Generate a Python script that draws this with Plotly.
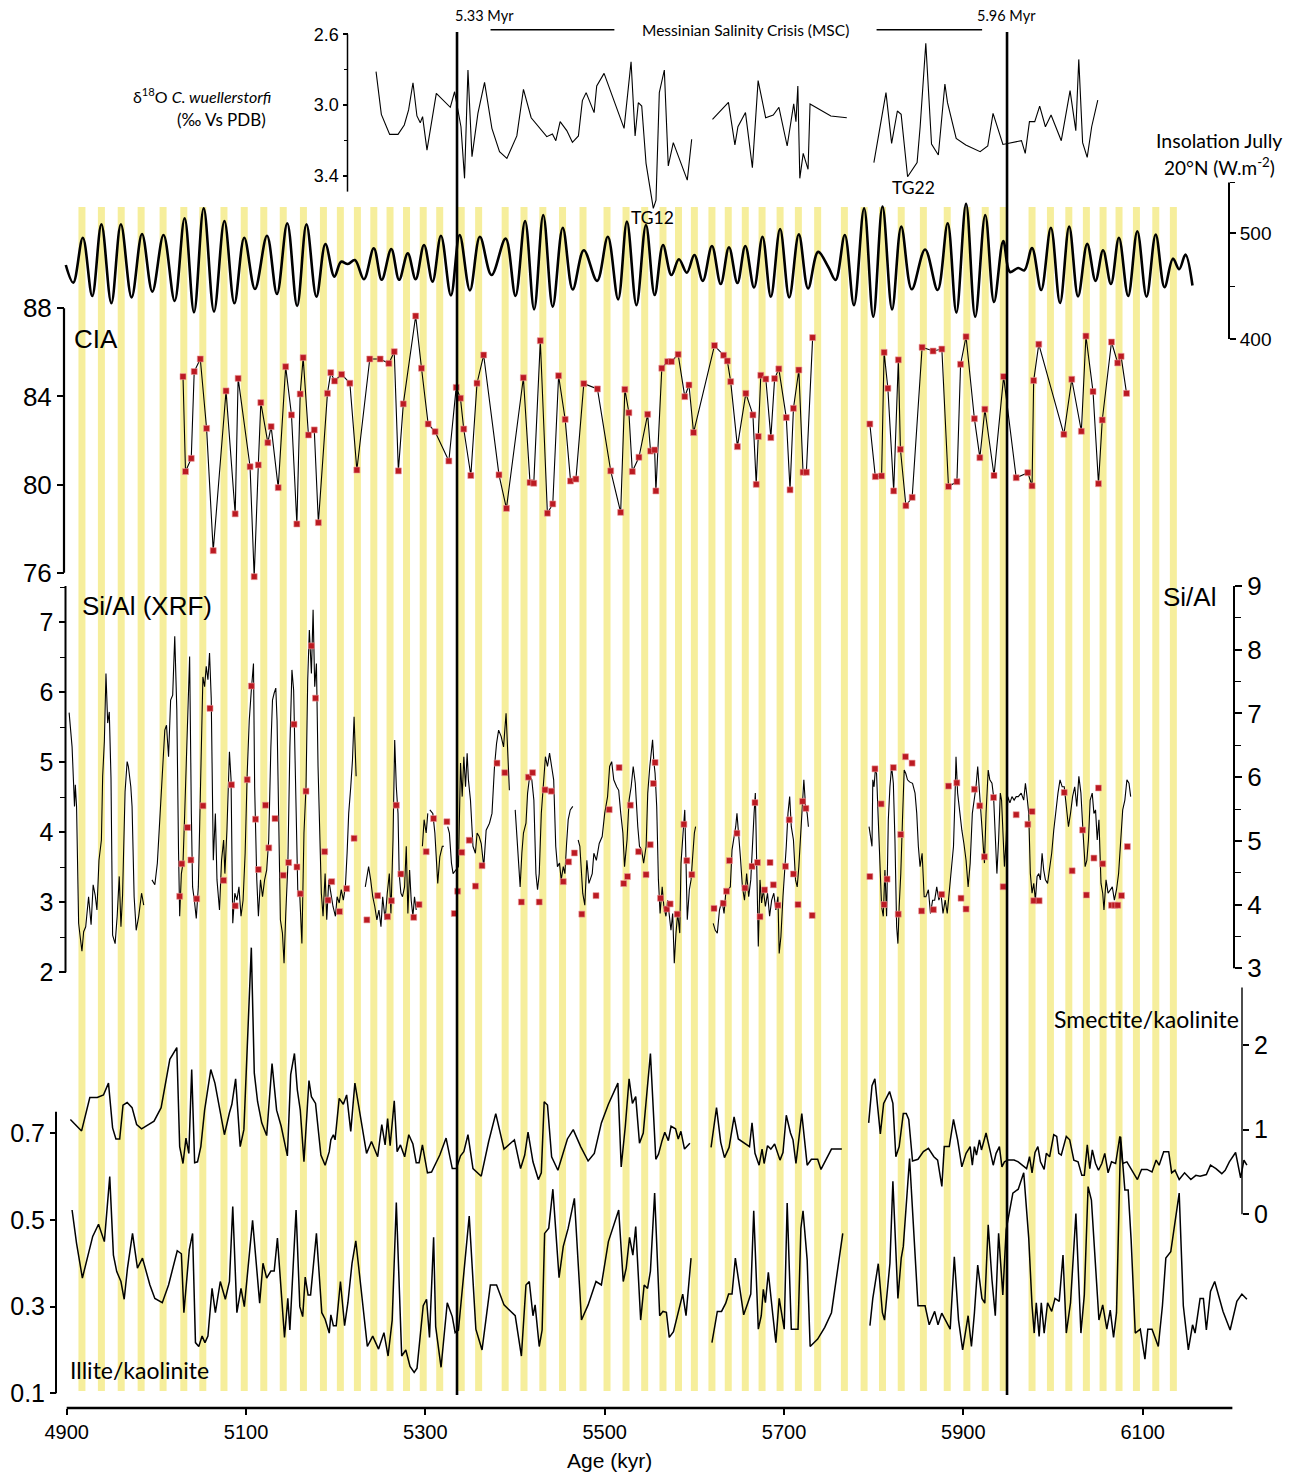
import plotly.graph_objects as go

# ---------------- DATA (ages in kyr) ----------------
band_centers = [4917, 4938.7, 4960.8, 4983, 5007.5, 5030.6, 5051.8, 5075.4, 5098, 5119.8,
                5141.5, 5164, 5186.3, 5205.2, 5224.2, 5242.5, 5260.6, 5279, 5297.6, 5316,
                5340, 5359.4, 5389, 5410, 5431, 5453, 5475.8, 5502.6, 5523.8, 5544.6,
                5565, 5582.3, 5600, 5619.6, 5637.8, 5656.8, 5675.5, 5695.6, 5716, 5737.5,
                5767.3, 5789.3, 5809.8, 5830.7, 5855.4, 5882, 5903.9, 5924.4, 5944.5, 5976.6,
                5997.1, 6017.6, 6037.2, 6055.8, 6073.6, 6093, 6114.6, 6134.2]
msc_bounds = [5335.3, 5948.7]

# d18O C. wuellerstorfi (3 segments)
d18o_age_1 = [5245, 5250.9, 5260.2, 5269.5, 5276.5, 5281.3, 5286.2, 5290.6, 5294.3, 5296.9,
              5301.8, 5312.2, 5327.8, 5332.6, 5339.7, 5343.7, 5347.5, 5352, 5358.6, 5366,
              5374.2, 5382.7, 5390.9, 5402, 5409.4, 5418, 5435.4, 5441.7, 5445.5, 5450.3,
              5457.7, 5464, 5470.7, 5475.1, 5479.3, 5488.2, 5491.1, 5499.3, 5521.6, 5529.4,
              5533.9, 5537.5, 5541.3, 5546.1, 5552.4, 5554.2, 5557.2, 5560.9, 5566.5, 5570.9,
              5576.5, 5592.1, 5597]
d18o_val_1 = [2.811, 3.053, 3.166, 3.166, 3.113, 3.028, 2.874, 3.062, 3.1, 3.066,
              3.255, 2.934, 3.013, 2.925, 3.123, 3.415, 2.802, 3.292, 3.047, 2.872,
              3.132, 3.264, 3.302, 3.175, 2.911, 3.072, 3.179, 3.164, 3.202, 3.094,
              3.145, 3.211, 3.175, 2.975, 2.93, 3.043, 2.892, 2.821, 3.132, 2.755,
              3.175, 2.987, 3.006, 3.33, 3.528, 3.585, 3.538, 2.93, 2.802, 3.345,
              3.213, 3.425, 3.194]
d18o_age_2 = [5620.2, 5638, 5645.2, 5648.6, 5657, 5664.7, 5671.1, 5679.5, 5688, 5694.3,
              5703.5, 5710.8, 5713.3, 5715.4, 5717.6, 5721.4, 5726.8, 5729, 5752.2, 5770]
d18o_val_2 = [3.081, 2.985, 3.226, 3.123, 3.043, 3.355, 2.862, 3.072, 3.057, 3.013,
              3.232, 2.994, 3.094, 2.892, 3.415, 3.274, 3.364, 2.994, 3.062, 3.072]
d18o_age_3 = [5800.2, 5813.7, 5820, 5826.4, 5830.6, 5837.8, 5848.4, 5851.8, 5858.1, 5864.5,
              5872.1, 5879.4, 5882.3, 5892, 5902.7, 5918.7, 5927.2, 5933.1, 5944.1, 5952.5,
              5964.8, 5969, 5973.7, 5979.6, 5985.1, 5991.5, 5997.8, 6009.2, 6019, 6025.4,
              6028.7, 6033, 6038.1, 6043.1, 6049.9]
d18o_val_3 = [3.326, 2.93, 3.217, 3.034, 3.053, 3.406, 3.326, 3.123, 2.651, 3.221,
              3.283, 2.881, 2.987, 3.189, 3.226, 3.264, 3.232, 3.047, 3.223, 3.213,
              3.202, 3.274, 3.094, 3.094, 3.006, 3.123, 3.057, 3.202, 2.919, 3.145,
              2.742, 3.213, 3.296, 3.123, 2.972]

# July insolation 20N (extrema)
ins_age = [4899, 4907.3, 4918, 4928.5, 4938.7, 4949.8, 4960.4, 4972.4, 4984, 4995.5,
           5008, 5020.4, 5031.5, 5042, 5052.8, 5064.3, 5075.9, 5087, 5098, 5110,
           5123.4, 5134.5, 5146, 5157, 5167.4, 5178.5, 5188.5, 5198.5, 5206, 5213.5,
           5221.4, 5231.5, 5242.5, 5251.3, 5262, 5270.7, 5280.4, 5289.2, 5298.5, 5308,
           5317.4, 5328.5, 5338.2, 5349.7, 5360.8, 5373.8, 5389.5, 5400.5, 5411.2, 5421.3,
           5431.5, 5442, 5453.2, 5464.3, 5476.7, 5491.5, 5503.5, 5515, 5524.8, 5535.4,
           5546, 5555.7, 5565, 5574.4, 5582.8, 5591.6, 5600, 5609.4, 5619.6, 5629.4,
           5638.6, 5648, 5656.8, 5666.6, 5676, 5685.3, 5695.6, 5705.8, 5716.5, 5726.8,
           5738, 5749.2, 5757.5, 5767.8, 5778, 5789.3, 5799.5, 5809.8, 5820.5, 5830.7,
           5842.4, 5857.3, 5871.3, 5882.5, 5892.2, 5903, 5913.2, 5924.4, 5934.2, 5944.5,
           5952, 5961.2, 5968, 5976.6, 5986.8, 5997.6, 6007.8, 6018, 6027.9, 6038.1,
           6047.4, 6055.8, 6064.6, 6073.5, 6083.8, 6094, 6104.3, 6114.5, 6124.3, 6133.7,
           6140.7, 6147.7, 6155.5]
ins_val = [470, 453.3, 495.8, 440.7, 508.5, 433.8, 508.5, 439.4, 499.3, 444.8,
           498.4, 436, 514.2, 425.3, 523.7, 425.9, 511.6, 433.8, 495.8, 447.3,
           497.7, 442.6, 509.5, 431.3, 508.5, 440, 489.9, 459, 473.1, 470.9,
           474.7, 456.5, 485.8, 456, 485, 456, 481, 456.5, 489, 454.3,
           497.7, 441.3, 498.4, 446, 496.7, 460.5, 495, 440.7, 511.6, 428,
           517.3, 430.6, 505.3, 446.9, 484, 455, 496.7, 437.5, 511, 432,
           507.9, 441.6, 488.9, 460.5, 475.4, 462.7, 479.5, 455, 488, 452,
           486.8, 453, 488, 448.7, 496.7, 440, 504, 439.4, 499, 447.8,
           482.4, 468.4, 455.8, 498.4, 432, 523.7, 421, 525.3, 428, 506.3,
           447, 484.7, 446.3, 509.5, 425, 527.9, 421, 517.3, 435, 492.7,
           463.4, 467.2, 465, 486, 446.3, 505.3, 434, 506.3, 440.3, 490,
           455, 484, 452, 495.8, 440.7, 502, 440, 498.7, 449, 476,
           466, 479.8, 450.6]

# CIA
cia_age_1 = [5029.7, 5032.5, 5038.9, 5042.2, 5049, 5056, 5063.4, 5077.7, 5087.9, 5091.2,
             5104.5, 5109.1, 5113.7, 5116.5, 5124.3, 5128, 5135.9, 5144.2, 5150.7, 5156.7,
             5160.4, 5163.7, 5169.6, 5176.1, 5180.7, 5190.8, 5194.5, 5198.8, 5206.6, 5215.8,
             5223.6, 5238, 5249.6, 5259.3, 5265.3, 5269.9, 5275.4, 5289.2, 5295.7, 5303.1,
             5310.9, 5326.2, 5334.4, 5339.1, 5342.8, 5350.7, 5357.6, 5365, 5382.1, 5390.4,
             5409.3, 5416.7, 5420.9, 5428.2, 5436.1, 5442.1, 5448.6, 5455.9, 5461.9, 5467.9,
             5476.7, 5491.9, 5506.7, 5517.8, 5522.5, 5527, 5530.8, 5538.2, 5547.9, 5551.1,
             5555.7, 5557.1, 5563.7, 5570.2, 5574.4, 5581.9, 5589.3, 5594, 5599.1, 5622.4,
             5632.6, 5636.8, 5640.5, 5648, 5657.4, 5665.3, 5669, 5671.3, 5674.1, 5679.7,
             5685.3, 5689.5, 5694.2, 5702.5, 5706.7, 5710.5, 5716.5, 5721.2, 5724.9, 5731.9]
cia_val_1 = [84.9, 80.59, 81.19, 85.13, 85.7, 82.55, 77.0, 84.25, 78.67, 84.82,
             80.81, 75.82, 80.89, 83.72, 81.9, 82.63, 79.86, 85.35, 83.16, 78.21,
             84.11, 85.76, 82.25, 82.48, 78.27, 84.14, 85.08, 84.7, 85.0, 84.6,
             80.66, 85.7, 85.7, 85.5, 86.03, 80.62, 83.66, 87.65, 85.28, 82.75,
             82.4, 81.07, 84.41, 83.92, 82.52, 80.41, 84.6, 85.88, 80.44, 78.92,
             84.85, 80.09, 80.06, 86.53, 78.7, 79.12, 84.94, 82.96, 80.16, 80.25,
             84.58, 84.34, 80.62, 78.74, 84.32, 83.26, 80.59, 81.24, 83.19, 81.52,
             81.57, 79.71, 85.28, 85.58, 85.58, 85.91, 83.99, 84.52, 82.36, 86.31,
             85.87, 85.61, 84.67, 81.72, 84.14, 83.16, 80.01, 82.18, 84.96, 84.79,
             82.13, 84.81, 85.25, 83.04, 79.76, 83.46, 85.2, 80.56, 80.56, 86.67]
cia_age_2 = [5795.7, 5801.8, 5808.8, 5811.6, 5815.8, 5822.3, 5827.5, 5829.8, 5835.9, 5842.9,
             5854, 5866.2, 5876, 5883.4, 5892.8, 5896.9, 5903, 5912.3, 5918.4, 5924,
             5934.2, 5944.9, 5958.9, 5971.9, 5976.6, 5978.4, 5984.1, 6012.1, 6020.9, 6031.6,
             6036.7, 6044.6, 6050.7, 6054.9, 6065.2, 6072.1, 6075.9, 6082]
cia_val_2 = [82.75, 80.36, 80.39, 86.0, 84.37, 79.71, 85.66, 81.6, 79.04, 79.42,
             86.23, 86.06, 86.15, 79.91, 80.13, 85.46, 86.71, 82.99, 81.22, 83.42,
             80.41, 84.9, 80.31, 80.54, 79.94, 84.72, 86.37, 82.28, 84.78, 82.42,
             86.74, 84.22, 80.04, 82.93, 86.47, 85.52, 85.82, 84.14]

# Si/Al (XRF) continuous record, segments
xrf_age_a = [4902.7, 4906, 4908.7, 4909.6, 4911, 4912.4, 4913.3, 4915.2, 4917, 4918.9,
             4921.2, 4924.4, 4927.2, 4929.5, 4931.8, 4933.7, 4936, 4938.7, 4940.1, 4942,
             4943.8, 4945.7, 4947.5, 4949.4, 4951.2, 4954, 4956.3, 4958.6, 4960.5, 4962.3,
             4965.1, 4967.4, 4968.8, 4971.5, 4972.9, 4975.2, 4977.5, 4980.3, 4983.5, 4985.9]
xrf_val_a = [5.71, 5.22, 4.37, 4.68, 4.37, 3.41, 2.7, 2.49, 2.3, 2.58,
             2.65, 3.08, 2.68, 3.25, 3.1, 2.89, 3.6, 3.89, 4.8, 5.3,
             6.27, 5.56, 5.72, 4.77, 2.53, 2.41, 2.8, 3.37, 2.65, 3.1,
             4.58, 5.01, 4.94, 4.65, 4.37, 3.08, 2.6, 2.8, 3.13, 2.96]
xrf_age_b = [4995.1, 4998.3, 5001.1, 5003.4, 5005.7, 5007.6, 5009.4, 5011.3, 5013.6, 5015.9,
             5018.2, 5020.5, 5022.8, 5024.7, 5026, 5027.9, 5029.7, 5031.6, 5033.4, 5035.3,
             5037.1, 5039, 5040.4, 5042.7, 5044.5, 5046.8, 5048.2, 5050.1, 5051.9, 5053.8,
             5055.6, 5057.5, 5059.3, 5061.2, 5063.5, 5065.8, 5067.6, 5070.4, 5072.7, 5075,
             5076.4, 5078.7, 5081.5, 5083.3, 5085.2, 5087.5, 5089.8, 5092.1, 5094.4, 5096.7,
             5099, 5101.3, 5103.6, 5105.9, 5108.3, 5109.6, 5112, 5113.8, 5116.1, 5118.4,
             5120.7, 5123, 5125.3, 5127.7, 5129.5, 5131.4, 5133.2, 5134.6, 5136.9, 5138.3,
             5140.6, 5142.4, 5144.3, 5146.6, 5148.9, 5151.2, 5153.1, 5155.4, 5157.7, 5160,
             5162.3, 5164.6, 5166.9, 5168.8, 5170.6, 5172.9, 5174.8, 5176.6, 5178.5, 5180.3,
             5182.2, 5184, 5185.9, 5188.2, 5190, 5192.3, 5194.6, 5197, 5199.7, 5201.6,
             5203.9, 5206.2, 5208.5, 5210.8, 5212.7, 5214.5, 5216.8, 5218.7, 5220.5, 5222.8]
xrf_val_b = [3.32, 3.25, 3.56, 4.10, 4.65, 5.13, 5.46, 5.53, 5.08, 5.89,
             5.96, 6.80, 5.75, 3.75, 2.80, 3.41, 3.56, 4.27, 5.03, 5.70,
             6.51, 4.27, 3.22, 2.99, 2.77, 3.22, 3.94, 5.22, 6.22, 6.08,
             6.37, 6.18, 6.56, 5.91, 3.60, 4.27, 3.32, 2.89, 3.60, 3.89,
             3.41, 4.03, 5.15, 4.75, 2.70, 3.13, 3.03, 3.22, 2.80, 3.03,
             3.70, 4.84, 5.60, 6.03, 6.41, 4.65, 3.32, 2.80, 3.32, 3.08,
             3.32, 3.46, 3.89, 5.22, 5.89, 5.99, 6.06, 5.60, 3.41, 2.75,
             2.56, 2.13, 2.84, 3.51, 5.22, 6.32, 6.03, 4.65, 3.18, 3.08,
             2.41, 3.99, 4.65, 6.18, 6.89, 6.27, 7.18, 6.08, 6.41, 4.94,
             4.18, 3.13, 2.80, 3.41, 2.75, 3.32, 3.13, 2.94, 2.80, 3.08,
             2.99, 3.18, 3.03, 3.22, 3.70, 4.27, 4.65, 5.03, 5.65, 4.80]
xrf_age_c = [5233, 5236.7, 5239, 5241.3, 5243.6, 5245.9, 5248.2, 5250.5, 5252.4, 5255.1,
             5257.5, 5259.8, 5261.6, 5263.9, 5265.8, 5267.6, 5269.5, 5270.8, 5272.7, 5274.5,
             5276.8, 5278.7, 5280.5, 5282.4, 5284.2, 5286.1, 5287.9, 5289.8]
xrf_val_c = [3.22, 3.51, 3.32, 3.08, 2.94, 2.75, 2.89, 2.65, 3.08, 2.75,
             3.13, 3.41, 2.84, 3.89, 5.32, 4.65, 4.27, 3.41, 3.13, 3.08,
             3.22, 3.80, 2.84, 3.46, 3.03, 2.80, 3.08, 2.89]
xrf_age_d = [5296.7, 5298.6, 5300.9, 5302.7]
xrf_val_d = [3.80, 4.18, 3.99, 4.27]
xrf_age_e = [5305, 5308.3, 5310.6, 5312.4, 5313.8, 5316.1, 5318.9, 5320.7]
xrf_val_e = [4.32, 4.27, 3.99, 3.46, 3.27, 3.65, 3.80, 3.80]
xrf_age_f = [5324.9, 5326.8, 5329.1, 5330.9, 5336.9, 5339.2, 5341.1, 5342.9, 5344.8, 5346.6,
             5348, 5350.3, 5353.1, 5355.8, 5357.7, 5360, 5362.3, 5365.1, 5367.8, 5371.5,
             5374.3, 5377.1, 5379.4, 5381.7, 5384.5, 5387.2, 5390, 5391.9, 5393.7]
xrf_val_f = [4.08, 3.99, 3.56, 3.41, 3.51, 4.99, 4.51, 5.08, 4.65, 5.13,
             4.75, 4.46, 3.80, 3.70, 3.99, 3.94, 3.84, 3.51, 4.03, 4.13,
             4.27, 4.94, 5.27, 5.46, 5.37, 5.22, 5.70, 4.99, 4.60]
xrf_age_g = [5400.2, 5403, 5405.7, 5407.6, 5409.4, 5412.2, 5414, 5416.3, 5418.7, 5421,
             5423.3, 5425.1, 5427, 5429.3, 5431.6, 5433.9, 5436.2, 5438.5, 5440.8, 5443.1,
             5445.4, 5447.3, 5449.6, 5451.5, 5453.8, 5455.6, 5457.5, 5459.3, 5461.6, 5464.4]
xrf_val_g = [4.32, 3.70, 3.22, 3.70, 3.99, 4.13, 4.56, 4.80, 4.75, 4.46,
             3.41, 3.18, 3.41, 4.27, 4.75, 5.08, 4.94, 5.13, 4.94, 4.75,
             3.80, 3.51, 3.56, 3.32, 3.51, 3.41, 3.84, 4.18, 4.32, 4.37]
xrf_age_h = [5470.4, 5472.3, 5475.5, 5477.8, 5480.1, 5482.4, 5486.1, 5487.9, 5490.7, 5493.9,
             5497.2, 5500, 5503.2, 5505.5, 5507.8, 5510.1, 5513.3, 5515.6, 5517.9, 5520.3,
             5522.1, 5524.9, 5527.2, 5529.5, 5531.8, 5534.1, 5536.9, 5538.8, 5541.1, 5543.4,
             5546.2, 5548, 5550.3, 5553.4, 5554.8, 5556.2, 5558, 5559.9, 5561.8, 5564.1,
             5566, 5568.3, 5570.2, 5572, 5573.9, 5575.8, 5577.6, 5579.5, 5581.4, 5583.7,
             5585.1, 5587.4, 5589.3, 5590.7, 5592.1, 5594.4, 5596.3, 5598.1, 5600, 5601.4]
xrf_val_h = [3.89, 3.80, 3.13, 2.96, 3.60, 3.27, 3.41, 3.70, 3.60, 3.84,
             3.94, 4.27, 4.51, 4.94, 5.01, 4.75, 4.65, 4.60, 4.27, 3.99,
             3.51, 3.89, 4.46, 4.65, 4.94, 4.70, 4.08, 3.80, 3.75, 3.56,
             3.80, 4.56, 4.94, 5.32, 5.01, 4.84, 4.37, 3.32, 2.84, 3.22,
             2.94, 2.80, 3.03, 2.84, 2.60, 2.84, 2.13, 2.56, 2.84, 2.56,
             3.56, 3.99, 4.32, 3.56, 2.75, 3.18, 3.32, 3.65, 3.99, 4.08]
xrf_age_i = [5621, 5623.3, 5625.6, 5628, 5630.8, 5633.1, 5635, 5637.3, 5640.1, 5642,
             5644.3, 5646.1, 5647.5, 5649.4, 5651.3, 5653.6, 5655.9, 5658.3, 5660.6, 5662.9,
             5664.8, 5666.6, 5668, 5669.9, 5671.3, 5673.2, 5675, 5676.9, 5679.2, 5681.6,
             5683.9, 5686.2, 5688.6, 5690.9, 5693.2, 5694.6, 5696.5, 5698.8, 5700.7, 5702.5,
             5704.4, 5706.3, 5708.1, 5710.5, 5712.8, 5714.7, 5716.5, 5718.4, 5720.2, 5722.1,
             5724, 5725.8, 5727.2]
xrf_val_i = [2.70, 2.60, 2.56, 2.89, 3.03, 2.84, 3.13, 3.18, 3.22, 3.75,
             3.94, 4.08, 4.27, 3.99, 3.65, 3.22, 3.03, 3.41, 3.08, 3.32,
             3.89, 4.27, 4.56, 3.51, 2.37, 3.32, 2.99, 3.18, 2.94, 3.13,
             2.80, 3.03, 3.13, 2.89, 3.08, 2.27, 2.51, 3.08, 3.41, 3.80,
             4.27, 4.51, 4.08, 3.89, 3.32, 3.22, 3.51, 3.99, 4.37, 4.75,
             4.37, 4.27, 4.08]
xrf_age_j = [5794.8, 5798.1, 5799, 5800.4, 5801.8, 5803.2, 5805.1, 5806.9, 5808.8, 5810.7,
             5812.5, 5814.4, 5816.3, 5818.1, 5820, 5821.9, 5823.7, 5825.6, 5827, 5828.4,
             5830.2, 5832.1, 5834, 5835.8, 5837.7, 5840, 5843.3, 5846.1, 5848, 5849.8,
             5851.7, 5854, 5856.3, 5858.2, 5861, 5863.3, 5865.7, 5868, 5870.3, 5872.7,
             5875, 5877.3, 5879.7, 5882, 5884.3, 5886.6, 5889, 5890.8, 5891.8, 5893.6,
             5896, 5898.3, 5900.6, 5903, 5905.3, 5907.6, 5910, 5911.8, 5914.1, 5916,
             5917.9, 5919.7, 5921.6, 5923.5, 5925.3, 5927.7, 5929.5, 5931.9, 5933.7, 5935.6,
             5937.4, 5939.3, 5941.2, 5942.6, 5944, 5945.8, 5947.7, 5949.6, 5951.9, 5954.2,
             5956.6, 5958.9, 5961.2, 5964.5, 5967.3, 5969.2, 5971, 5972.9, 5974.7, 5976.6,
             5978.5, 5980.3, 5982.2, 5984.1, 5985.9, 5987.8, 5989.6, 5991.5, 5993.9, 5996.2,
             5998.5, 6000.8, 6003.2, 6005.5, 6007.8, 6010.2, 6012.5, 6014.8, 6017.2, 6019.5,
             6021.8, 6024.2, 6026.5, 6028.8, 6031.1, 6033.5, 6035.8, 6037.7, 6039.5, 6041.4,
             6043.7, 6045.6, 6047.4, 6049.3, 6051.2, 6053.5, 6055.4, 6056.8, 6059.1, 6061.4,
             6063.8, 6066.1, 6068.4, 6070.8, 6073.1, 6075.4, 6077.7, 6080.1, 6082.4, 6084.7,
             6086.6]
xrf_val_j = [4.08, 3.80, 4.75, 4.65, 4.89, 4.84, 4.18, 3.51, 2.94, 2.80,
             3.46, 2.80, 4.18, 4.65, 4.94, 4.70, 3.89, 2.65, 2.41, 2.94,
             3.41, 4.18, 4.89, 4.84, 4.75, 4.72, 4.70, 4.56, 4.27, 3.80,
             3.51, 3.70, 3.08, 3.08, 3.18, 2.84, 3.03, 3.03, 3.22, 3.03,
             3.13, 2.84, 3.03, 2.84, 3.18, 3.41, 3.80, 4.56, 5.08, 4.56,
             4.27, 4.03, 3.84, 3.60, 3.22, 3.56, 4.27, 4.46, 4.65, 4.94,
             4.56, 4.27, 3.94, 3.56, 4.27, 4.89, 4.75, 4.70, 4.51, 3.94,
             3.41, 3.89, 4.56, 4.46, 3.99, 3.51, 3.89, 4.51, 4.42, 4.51,
             4.46, 4.51, 4.51, 4.56, 4.46, 4.70, 4.51, 4.27, 3.41, 3.13,
             3.27, 3.03, 3.37, 3.41, 3.32, 3.70, 3.46, 3.32, 3.27, 3.51,
             3.70, 4.03, 4.32, 4.56, 4.75, 4.65, 4.65, 4.32, 4.08, 4.27,
             4.51, 4.65, 4.37, 4.80, 4.56, 3.99, 3.51, 3.60, 3.89, 4.46,
             4.56, 4.27, 4.32, 3.89, 4.18, 3.27, 3.13, 2.89, 3.32, 3.13,
             3.18, 3.22, 3.03, 3.18, 3.41, 3.80, 4.32, 4.46, 4.75, 4.70,
             4.51]

# Si/Al discrete samples (right axis)
sial_age = [5026, 5028.4, 5034.8, 5038.5, 5045, 5052, 5059.8, 5075, 5083.8, 5088,
            5101.3, 5106, 5110.6, 5113.8, 5121.7, 5125.4, 5132.3, 5141.5, 5147.5, 5153.5,
            5156.8, 5160.5, 5166.9, 5172.9, 5177.5, 5187.7, 5191.4, 5195.6, 5204.3, 5212.2,
            5220.5, 5234.8, 5246.8, 5257.9, 5262.1, 5267.6, 5272.7, 5287, 5293, 5300.9,
            5309.2, 5324, 5332.3, 5336, 5340.6, 5348.9, 5355.9, 5363.2, 5379.9, 5388.6,
            5407.1, 5414.9, 5419.6, 5427, 5433.4, 5440.4, 5453.8, 5459.8, 5466.2, 5474.5,
            5490.3, 5505, 5516.1, 5521.2, 5525.4, 5528.6, 5537.8, 5546.1, 5550.8, 5554.3,
            5556.2, 5562.2, 5569.2, 5573, 5580.9, 5588.3, 5591.6, 5597.2, 5621.9, 5632.2,
            5635.9, 5639.1, 5647.5, 5656.4, 5664.3, 5667.6, 5670.4, 5673.2, 5678.3, 5684.4,
            5688.1, 5693.2, 5701.6, 5705.8, 5710.5, 5715.6, 5720.7, 5724.4, 5731.4, 5795.7,
            5801.4, 5808.3, 5811.6, 5814.9, 5821.9, 5827.4, 5830.2, 5835.4, 5842.8, 5853.5,
            5866.6, 5875.9, 5883.4, 5892.7, 5897.4, 5903, 5912.3, 5918.3, 5923.5, 5933.7,
            5944.4, 5958.9, 5971.9, 5976.6, 5978.5, 5984.5, 6012.5, 6021.3, 6033, 6037.2,
            6045.6, 6050.7, 6055.4, 6065.2, 6068.9, 6072.2, 6076.4, 6082.9]
sial_val = [4.13, 4.64, 5.21, 4.70, 4.09, 5.55, 7.08, 4.38, 5.88, 3.98,
            5.96, 7.43, 5.34, 4.55, 5.56, 4.89, 5.35, 4.46, 4.66, 6.83,
            4.59, 4.17, 5.78, 8.06, 7.24, 4.83, 4.07, 4.36, 3.89, 4.25,
            5.04, 3.76, 4.14, 3.81, 4.06, 5.56, 4.48, 3.80, 4.00, 4.83,
            5.35, 5.30, 3.86, 4.21, 4.82, 5.01, 4.29, 4.61, 6.22, 6.07,
            4.04, 6.00, 6.07, 4.04, 5.80, 5.78, 4.36, 4.67, 4.81, 3.85,
            4.14, 5.49, 6.15, 4.33, 4.44, 5.56, 4.83, 4.47, 4.94, 5.90,
            6.23, 4.10, 3.93, 4.01, 3.85, 5.26, 4.69, 4.47, 3.94, 4.02,
            4.21, 4.69, 5.12, 4.26, 4.60, 5.60, 4.66, 3.81, 4.23, 4.66,
            4.31, 3.99, 4.60, 5.33, 4.48, 4.00, 5.62, 5.51, 3.83, 4.44,
            6.13, 5.58, 4.00, 4.40, 6.15, 3.85, 5.10, 6.32, 6.22, 3.90,
            3.92, 4.16, 5.86, 5.91, 4.10, 3.93, 5.81, 5.55, 4.75, 5.68,
            4.28, 5.41, 5.26, 5.46, 4.06, 4.06, 5.76, 4.53, 5.17, 4.15,
            4.73, 5.83, 4.64, 3.99, 3.99, 3.99, 4.14, 4.91]

# Smectite/kaolinite
sme_age_1 = [4904.1, 4916.6, 4925.8, 4934.1, 4941, 4946.6, 4951.2, 4954.9, 4959.1, 4962.8,
             4967.4, 4972.9, 4978, 4983.5, 4997.4, 5005.3, 5015, 5022.8, 5026, 5029.7,
             5033, 5036.2, 5039.4, 5042.7, 5045.9, 5049.6, 5053.8, 5060.7, 5065.3, 5075.9,
             5081.5, 5084.2, 5088.4, 5093.5, 5097.6, 5101.8, 5105.9, 5109.2, 5112.9, 5117.5,
             5123, 5129, 5134.1, 5139.2, 5146.1, 5149.8, 5154, 5157.2, 5160.5, 5164.6,
             5170.2, 5172.9, 5177.5, 5183.5, 5188.2, 5192.8, 5194.6, 5197.4, 5199.3, 5203.9,
             5208.5, 5212.2, 5216.8, 5221.4, 5227.4, 5234.4, 5239.9, 5246.8, 5251.4, 5255.1,
             5257.9, 5260.7, 5265.3, 5268.5, 5272.2, 5276.9, 5281.5, 5286.1, 5289.8, 5293,
             5296.7, 5302.3, 5306.9, 5316.1, 5323.1, 5330, 5334.6, 5339.2, 5342.9, 5347.5,
             5353.1, 5362.3, 5370.6, 5378.5, 5387.7, 5399.3, 5406.2, 5410.8, 5414.5, 5420,
             5426, 5429.3, 5432.5, 5436.2, 5440.8, 5447.8, 5458.4, 5464.9, 5473.2, 5481.5,
             5488.4, 5496.3, 5504.1, 5514.7, 5518.4, 5523, 5527.2, 5530.9, 5534.6, 5538.8,
             5543, 5546, 5551, 5557, 5560, 5564, 5567, 5571, 5574, 5579,
             5582, 5585, 5589, 5595]
sme_val_1 = [1.12, 0.985, 1.38, 1.38, 1.41, 1.55, 1.02, 0.89, 0.89, 1.29,
             1.32, 1.26, 1.06, 1.01, 1.10, 1.26, 1.83, 1.97, 0.80, 0.60,
             0.90, 0.72, 1.71, 0.61, 0.62, 0.80, 1.23, 1.71, 1.55, 0.94,
             1.20, 1.30, 1.60, 0.80, 1.00, 2.10, 3.15, 1.67, 1.33, 1.08,
             0.93, 1.78, 1.23, 1.04, 0.69, 1.65, 1.90, 1.47, 1.23, 0.62,
             1.58, 1.39, 1.31, 0.70, 0.58, 0.74, 0.88, 0.94, 0.88, 1.37,
             1.30, 1.41, 0.98, 1.55, 1.15, 0.72, 0.86, 0.68, 1.06, 0.82,
             1.13, 0.81, 1.34, 0.74, 0.82, 0.68, 0.94, 0.83, 0.61, 0.61,
             0.82, 0.49, 0.50, 0.70, 0.90, 0.54, 0.54, 0.69, 0.74, 0.94,
             0.54, 0.45, 0.86, 1.19, 0.77, 0.88, 0.54, 0.70, 0.97, 0.62,
             0.41, 0.49, 1.33, 1.29, 0.68, 0.52, 0.89, 1.00, 0.80, 0.63,
             0.72, 1.08, 1.30, 1.55, 0.56, 1.04, 1.60, 1.31, 1.39, 0.84,
             0.96, 1.29, 1.90, 0.65, 0.71, 0.87, 0.97, 0.87, 1.04, 1.01,
             0.89, 0.98, 0.77, 0.84]
sme_age_2 = [5618.6, 5624.7, 5629.4, 5633.6, 5638.7, 5644.3, 5649, 5656, 5661.5, 5664.3,
             5667.6, 5672.2, 5675.5, 5677.8, 5681.6, 5685.3, 5689.5, 5695.5, 5698.8, 5702.5,
             5707.2, 5710, 5713.3, 5719.8, 5725.8, 5730.5, 5737.5, 5741.2, 5752.9, 5764.5]
sme_val_2 = [0.79, 1.26, 0.85, 0.67, 0.79, 1.15, 0.89, 0.84, 0.80, 1.08,
             0.72, 0.58, 0.77, 0.60, 0.81, 0.77, 0.83, 0.64, 0.73, 1.17,
             0.96, 0.88, 0.60, 1.19, 0.58, 0.65, 0.65, 0.53, 0.77, 0.77]
sme_age_3 = [5794.4, 5798.1, 5801.3, 5807.4, 5811.1, 5817.7, 5821.4, 5824.7, 5828.4, 5833,
             5836.3, 5839.1, 5843.3, 5849.4, 5855.4, 5861, 5867.1, 5871.3, 5876, 5878.7,
             5884.3, 5889, 5893.6, 5898.3, 5903, 5907.6, 5910, 5912.3, 5914.6, 5917.9,
             5920.2, 5925.3, 5930, 5933.3, 5936.5, 5940.2, 5943, 5945.8, 5949.6, 5956.6,
             5961.2, 5965.9, 5970.5, 5973.8, 5976.6, 5979.9, 5983.1, 5986, 5990.1, 5992.5,
             5996.2, 6000.8, 6004.1, 6006.4, 6009.2, 6014.8, 6018.6, 6023.2, 6027.9, 6032.1,
             6034.9, 6038.2, 6041, 6043.8, 6047.4, 6050.7, 6054.4, 6057.7, 6061.4, 6065.2,
             6069.8, 6074.5, 6077.7, 6082.4, 6087.1, 6094.1, 6098.7, 6104.8, 6110.4, 6115,
             6118.3, 6123.4, 6129, 6132.3, 6136, 6140.7, 6146.7, 6153.7, 6159.3, 6164,
             6171, 6175.6, 6181.7, 6188.2, 6192, 6196.6, 6203.6, 6209.2, 6212.9, 6216.2]
sme_val_3 = [1.08, 1.52, 1.60, 0.95, 1.31, 1.45, 1.31, 0.68, 0.80, 1.19,
             1.19, 1.12, 0.63, 0.65, 0.74, 0.78, 0.68, 0.64, 0.33, 0.80,
             0.80, 1.12, 0.88, 0.56, 0.72, 0.80, 0.58, 0.80, 0.70, 0.88,
             0.76, 0.96, 0.74, 0.58, 0.72, 0.80, 0.56, 0.62, 0.64, 0.64,
             0.62, 0.58, 0.54, 0.68, 0.49, 0.73, 0.80, 0.62, 0.53, 0.72,
             0.68, 0.94, 0.92, 0.72, 0.70, 0.92, 0.88, 0.64, 0.62, 0.46,
             0.46, 0.82, 0.54, 0.76, 0.60, 0.52, 0.60, 0.72, 0.49, 0.62,
             0.60, 0.92, 0.60, 0.62, 0.54, 0.41, 0.53, 0.53, 0.50, 0.64,
             0.58, 0.74, 0.74, 0.49, 0.52, 0.41, 0.49, 0.41, 0.46, 0.45,
             0.47, 0.58, 0.54, 0.48, 0.52, 0.62, 0.73, 0.43, 0.64, 0.58]

# Illite/kaolinite
ill_age_1 = [4906, 4911, 4917.5, 4924.4, 4929, 4935.5, 4942, 4948, 4952.1, 4955.8,
             4960.5, 4964.1, 4967.8, 4973.4, 4978.9, 4984.5, 4988.2, 4992.8, 4998.3, 5006.6,
             5013.6, 5023.3, 5027.9, 5030.7, 5036.7, 5040.4, 5043.6, 5047.3, 5051, 5054.2,
             5057.5, 5062.1, 5065.8, 5071.3, 5076.9, 5081.5, 5085.2, 5089.8, 5094.4, 5098.1,
             5107.3, 5115.2, 5118.9, 5123, 5127.7, 5131.4, 5135, 5142.9, 5146.6, 5148.9,
             5155.8, 5160, 5163.2, 5166, 5169.2, 5172, 5178.5, 5184.5, 5188.2, 5192.8,
             5194.6, 5197.4, 5200.6, 5205.3, 5209.9, 5213.6, 5218.2, 5222.4, 5228.4, 5235.3,
             5241.3, 5247.8, 5253.8, 5258.4, 5263, 5267.6, 5273.6, 5278.2, 5282.9, 5287.5,
             5290.7, 5297.6, 5301.3, 5304.6, 5309.2, 5311.5, 5317.5, 5324.4, 5330, 5333.2,
             5336.9, 5343.8, 5348.9, 5356.3, 5363.2, 5372.5, 5379.4, 5387.7, 5393.7, 5400.2,
             5407.1, 5412.2, 5415.9, 5420, 5422.4, 5427, 5430.2, 5433, 5437.6, 5442.2,
             5449.1, 5453.8, 5459.3, 5466.2, 5474.1, 5481.5, 5490.3, 5496.3, 5504.1, 5509.2,
             5515.6, 5520.7, 5524, 5527.7, 5531.4, 5534.6, 5540.1, 5544, 5547.8, 5551,
             5555.7, 5561.3, 5565, 5568.8, 5572, 5576.7, 5582.3, 5587, 5590.7, 5596.3]
ill_val_1 = [0.523, 0.446, 0.366, 0.423, 0.462, 0.49, 0.45, 0.6, 0.419, 0.381,
             0.358, 0.317, 0.389, 0.469, 0.389, 0.412, 0.385, 0.35, 0.319, 0.309,
             0.35, 0.429, 0.422, 0.286, 0.431, 0.469, 0.217, 0.208, 0.232, 0.217,
             0.232, 0.342, 0.286, 0.358, 0.317, 0.358, 0.531, 0.286, 0.342, 0.3,
             0.499, 0.308, 0.4, 0.366, 0.382, 0.382, 0.458, 0.229, 0.319, 0.246,
             0.523, 0.3, 0.277, 0.368, 0.327, 0.327, 0.469, 0.286, 0.271, 0.239,
             0.281, 0.256, 0.256, 0.358, 0.256, 0.309, 0.4, 0.452, 0.339, 0.208,
             0.232, 0.202, 0.24, 0.186, 0.269, 0.54, 0.186, 0.2, 0.162, 0.148,
             0.158, 0.302, 0.317, 0.229, 0.46, 0.254, 0.16, 0.309, 0.277, 0.24,
             0.246, 0.392, 0.509, 0.248, 0.2, 0.35, 0.35, 0.304, 0.292, 0.279,
             0.186, 0.35, 0.358, 0.279, 0.304, 0.208, 0.246, 0.469, 0.481, 0.571,
             0.367, 0.439, 0.481, 0.55, 0.269, 0.304, 0.358, 0.35, 0.45, 0.485,
             0.523, 0.358, 0.389, 0.46, 0.419, 0.485, 0.269, 0.35, 0.342, 0.382,
             0.562, 0.279, 0.289, 0.287, 0.229, 0.242, 0.289, 0.329, 0.279, 0.412]
ill_age_2 = [5619.6, 5625.6, 5630.3, 5635, 5638.2, 5642, 5645.7, 5649.9, 5655, 5659.7,
             5662.9, 5666.2, 5671.3, 5674.6, 5676.9, 5679.2, 5682.5, 5687.6, 5690.9, 5694.6,
             5700.2, 5703.5, 5708.1, 5715.6, 5718.8, 5721.2, 5725.8, 5729.1, 5737.5, 5745.4,
             5752.9, 5765.5]
ill_val_2 = [0.217, 0.289, 0.289, 0.308, 0.329, 0.329, 0.412, 0.35, 0.281, 0.309,
             0.329, 0.521, 0.248, 0.279, 0.34, 0.309, 0.379, 0.279, 0.217, 0.319,
             0.248, 0.539, 0.248, 0.248, 0.481, 0.521, 0.408, 0.208, 0.225, 0.252,
             0.286, 0.469]
ill_age_3 = [5795.8, 5799, 5805.1, 5809.7, 5812.1, 5815.8, 5818.1, 5821.4, 5827, 5830.7,
             5833, 5840, 5849.4, 5857.3, 5861.9, 5868, 5871.7, 5875.9, 5879.7, 5885.3,
             5889.9, 5894.6, 5899.2, 5905.3, 5909, 5912.3, 5916, 5920.7, 5923.9, 5927.7,
             5931.9, 5935.6, 5939.3, 5944, 5947.7, 5955.2, 5961.2, 5967.3, 5972.9, 5976.6,
             5979, 5981.3, 5984.5, 5986.9, 5990.1, 5993.9, 5998.5, 6002.2, 6006.9, 6011.1,
             6014.8, 6019.5, 6025.5, 6031.1, 6034.9, 6039.1, 6042.8, 6046.5, 6051.2, 6055.4,
             6060, 6063.8, 6067.5, 6070.8, 6075.4, 6080.1, 6083.8, 6087.1, 6091.7, 6097.3,
             6102.5, 6105.7, 6110.4, 6117.4, 6122, 6125.8, 6131.3, 6140.7, 6145.3, 6150.9,
             6155.6, 6158.4, 6164, 6167.7, 6171, 6175.6, 6180.3, 6189.6, 6197.5, 6205,
             6210.6, 6216.2]
ill_val_3 = [0.256, 0.319, 0.399, 0.286, 0.269, 0.358, 0.4, 0.589, 0.319, 0.412,
             0.439, 0.642, 0.302, 0.302, 0.258, 0.289, 0.258, 0.285, 0.269, 0.248,
             0.415, 0.269, 0.2, 0.279, 0.208, 0.285, 0.396, 0.319, 0.308, 0.489,
             0.362, 0.279, 0.469, 0.327, 0.477, 0.562, 0.571, 0.609, 0.458, 0.302,
             0.239, 0.309, 0.231, 0.309, 0.239, 0.309, 0.289, 0.319, 0.312, 0.419,
             0.239, 0.309, 0.515, 0.239, 0.327, 0.577, 0.546, 0.427, 0.269, 0.304,
             0.248, 0.292, 0.229, 0.286, 0.692, 0.569, 0.569, 0.454, 0.239, 0.248,
             0.179, 0.248, 0.248, 0.208, 0.302, 0.412, 0.427, 0.562, 0.302, 0.2,
             0.258, 0.239, 0.319, 0.319, 0.246, 0.335, 0.358, 0.289, 0.246, 0.312,
             0.329, 0.317]

x_ticks = [4900, 5100, 5300, 5500, 5700, 5900, 6100]

# ---------------- LAYOUT GEOMETRY ----------------
W, H = 1296, 1476
ML, MR, MT, MB = 40, 44, 0, 68
PW, PH = W - ML - MR, H - MT - MB
K = (1142.7 - 66.7) / 1200.0
XMIN = 4900 - (66.7 - ML) / K
XMAX = XMIN + PW / K

NUM = "Liberation Sans, Arial, Helvetica, sans-serif"
MYR = "Lato, Open Sans, sans-serif"
YEL = "#f6ee9c"
RED = "#bb1a22"


def fx(px):
    return (px - ML) / PW


def fy(py):
    return (PH - (py - MT)) / PH


def yspec(va, pa, vb, pb, top, bot):
    s = (vb - va) / (pb - pa)
    return [fy(bot), fy(top)], [va + (bot - pa) * s, va + (top - pa) * s]


def join(*segs):
    xs, ys = [], []
    for i in range(0, len(segs), 2):
        if xs:
            xs.append(None)
            ys.append(None)
        xs += list(segs[i])
        ys += list(segs[i + 1])
    return xs, ys


def yax(spec, pos, side, tv, size, ticklen=6, minor=None):
    dom, rng = spec
    d = dict(domain=dom, range=rng, anchor="free", position=pos, side=side,
             showgrid=False, zeroline=False, showline=False,
             ticks="outside", ticklen=ticklen, tickwidth=1.6, tickcolor="black",
             tickvals=[v for v, _ in tv], ticktext=[t for _, t in tv],
             tickfont=dict(family=NUM, size=size, color="black"))
    if minor:
        d["minor"] = dict(tickvals=minor, ticks="outside", ticklen=ticklen - 1,
                          tickwidth=1.4, tickcolor="black", showgrid=False)
    return d


fig = go.Figure()

dx, dy = join(d18o_age_1, d18o_val_1, d18o_age_2, d18o_val_2, d18o_age_3, d18o_val_3)
fig.add_trace(go.Scatter(x=dx, y=dy, yaxis="y", mode="lines",
                         line=dict(color="black", width=1.1), hoverinfo="skip"))

fig.add_trace(go.Scatter(x=ins_age, y=ins_val, yaxis="y2", mode="lines",
                         line=dict(color="black", width=2.6, shape="spline", smoothing=1.0),
                         hoverinfo="skip"))

cx, cy = join(cia_age_1, cia_val_1, cia_age_2, cia_val_2)
fig.add_trace(go.Scatter(x=cx, y=cy, yaxis="y3", mode="lines+markers",
                         line=dict(color="black", width=1.1),
                         marker=dict(symbol="square", size=6, color=RED,
                                     line=dict(color="#ec9a9a", width=0.6)),
                         hoverinfo="skip"))

xx, xy = join(xrf_age_a, xrf_val_a, xrf_age_b, xrf_val_b, xrf_age_c, xrf_val_c,
              xrf_age_d, xrf_val_d, xrf_age_e, xrf_val_e, xrf_age_f, xrf_val_f,
              xrf_age_g, xrf_val_g, xrf_age_h, xrf_val_h, xrf_age_i, xrf_val_i,
              xrf_age_j, xrf_val_j)
fig.add_trace(go.Scatter(x=xx, y=xy, yaxis="y4", mode="lines",
                         line=dict(color="black", width=1.1), hoverinfo="skip"))

fig.add_trace(go.Scatter(x=sial_age, y=sial_val, yaxis="y5", mode="markers",
                         marker=dict(symbol="square", size=6, color=RED,
                                     line=dict(color="#ec9a9a", width=0.6)),
                         hoverinfo="skip"))

sx, sy = join(sme_age_1, sme_val_1, sme_age_2, sme_val_2, sme_age_3, sme_val_3)
fig.add_trace(go.Scatter(x=sx, y=sy, yaxis="y6", mode="lines",
                         line=dict(color="black", width=1.5), hoverinfo="skip"))

ix, iy = join(ill_age_1, ill_val_1, ill_age_2, ill_val_2, ill_age_3, ill_val_3)
fig.add_trace(go.Scatter(x=ix, y=iy, yaxis="y7", mode="lines",
                         line=dict(color="black", width=1.5), hoverinfo="skip"))

# ---------------- AXES ----------------
s_d18 = yspec(2.6, 34.3, 3.4, 175.7, 20, 215)
s_ins = yspec(500, 233.3, 400, 339, 176, 342)
s_cia = yspec(88, 308.3, 76, 572.7, 300, 582)
s_xrf = yspec(7, 622.3, 2, 972.3, 582, 982)
s_sia = yspec(9, 586, 3, 968.3, 582, 982)
s_sme = yspec(2, 1045, 0, 1214.3, 935, 1228)
s_ill = yspec(0.7, 1133.3, 0.1, 1393.3, 1098, 1402)

P_D18, P_INS, P_CIA, P_XRF = fx(347.5), fx(1229), fx(64), fx(65.5)
P_SIA, P_SME, P_ILL = fx(1234), fx(1242), fx(56)

layout = dict(
    width=W, height=H, template="none",
    margin=dict(l=ML, r=MR, t=MT, b=MB, pad=0),
    paper_bgcolor="white", plot_bgcolor="rgba(0,0,0,0)",
    showlegend=False,
    xaxis=dict(domain=[0, 1], range=[XMIN, XMAX], anchor="free", position=0,
               showgrid=False, zeroline=False, showline=False,
               ticks="outside", ticklen=6, tickwidth=2, tickcolor="black",
               tickvals=x_ticks, ticktext=[str(t) for t in x_ticks],
               tickfont=dict(family=NUM, size=20, color="black")),
    yaxis=yax(s_d18, P_D18, "left", [(2.6, "2.6"), (3.0, "3.0"), (3.4, "3.4")], 18, 5,
              minor=[2.8, 3.2]),
    yaxis2=yax(s_ins, P_INS, "right", [(400, "400"), (500, "500")], 19, 6,
               minor=[450, 548]),
    yaxis3=yax(s_cia, P_CIA, "left", [(76, "76"), (80, "80"), (84, "84"), (88, "88")], 26, 7),
    yaxis4=yax(s_xrf, P_XRF, "left", [(v, str(v)) for v in [2, 3, 4, 5, 6, 7]], 25, 7,
               minor=[2.5, 3.5, 4.5, 5.5, 6.5, 7.5]),
    yaxis5=yax(s_sia, P_SIA, "right", [(v, str(v)) for v in [3, 4, 5, 6, 7, 8, 9]], 26, 7,
               minor=[3.5, 4.5, 5.5, 6.5, 7.5, 8.5]),
    yaxis6=yax(s_sme, P_SME, "right", [(0, "0"), (1, "1"), (2, "2")], 25, 6),
    yaxis7=yax(s_ill, P_ILL, "left", [(0.1, "0.1"), (0.3, "0.3"), (0.5, "0.5"), (0.7, "0.7")], 25, 6),
)
fig.update_layout(**layout)

# ---------------- SHAPES ----------------
shapes = []
for c in band_centers:
    shapes.append(dict(type="rect", xref="x", yref="paper", x0=c - 3.9, x1=c + 3.9,
                       y0=fy(1391), y1=fy(207), fillcolor=YEL, line=dict(width=0),
                       layer="below"))
for b in msc_bounds:
    shapes.append(dict(type="line", xref="x", yref="paper", x0=b, x1=b,
                       y0=fy(1395), y1=fy(32), line=dict(color="black", width=2.6),
                       layer="above"))
# axis lines
for ref, pos, v0, v1, w in [("y", P_D18, 2.6, 3.49, 1.5), ("y2", P_INS, 400, 548, 2),
                            ("y3", P_CIA, 76, 88, 2.2), ("y4", P_XRF, 2, 7.52, 2),
                            ("y5", P_SIA, 3, 9, 2), ("y6", P_SME, 0, 2.68, 1.4),
                            ("y7", P_ILL, 0.1, 0.75, 2)]:
    shapes.append(dict(type="line", xref="paper", yref=ref, x0=pos, x1=pos, y0=v0, y1=v1,
                       line=dict(color="black", width=w)))
shapes.append(dict(type="line", xref="x", yref="paper", x0=4900, x1=6200, y0=0, y1=0,
                   line=dict(color="black", width=2.6)))
# MSC bracket lines
for a, b in [(5372.7, 5510.8), (5803.2, 5920.9)]:
    shapes.append(dict(type="line", xref="x", yref="paper", x0=a, x1=b,
                       y0=fy(29.7), y1=fy(29.7), line=dict(color="black", width=1.6)))
fig.update_layout(shapes=shapes)

# ---------------- TEXT ----------------
def ann(text, px, py, size, family=MYR, xanchor="center", color="black"):
    return dict(text=text, xref="paper", yref="paper", x=fx(px), y=fy(py),
                xanchor=xanchor, yanchor="middle", showarrow=False,
                font=dict(family=family, size=size, color=color))

annotations = [
    ann("5.33 Myr", 453, 16, 14.5, xanchor="left"),
    ann("5.96 Myr", 975, 16, 14.5, xanchor="left"),
    ann("Messinian Salinity Crisis (MSC)", 745, 30, 15.5),
    ann("δ<sup>18</sup>O <i>C. wuellerstorfi</i>", 273, 95, 16, xanchor="right"),
    ann("(‰ Vs PDB)", 221, 120, 17),
    ann("Insolation Jully", 1219, 141, 19.5),
    ann("20°N (W.m<sup>-2</sup>)", 1219, 166, 19),
    ann("TG12", 652, 217, 17.5),
    ann("TG22", 913, 187, 17.5),
    ann("CIA", 72, 339, 26, family=NUM, xanchor="left"),
    ann("Si/Al (XRF)", 80, 606, 26, family=NUM, xanchor="left"),
    ann("Si/Al", 1218, 597, 26, family=NUM, xanchor="right"),
    ann("Smectite/kaolinite", 1241, 1019, 23, xanchor="right"),
    ann("Illite/kaolinite", 68, 1370, 23, xanchor="left"),
    ann("Age (kyr)", 609, 1460, 21, family=NUM),
]
fig.update_layout(annotations=annotations)

fig.write_html("out.html")
